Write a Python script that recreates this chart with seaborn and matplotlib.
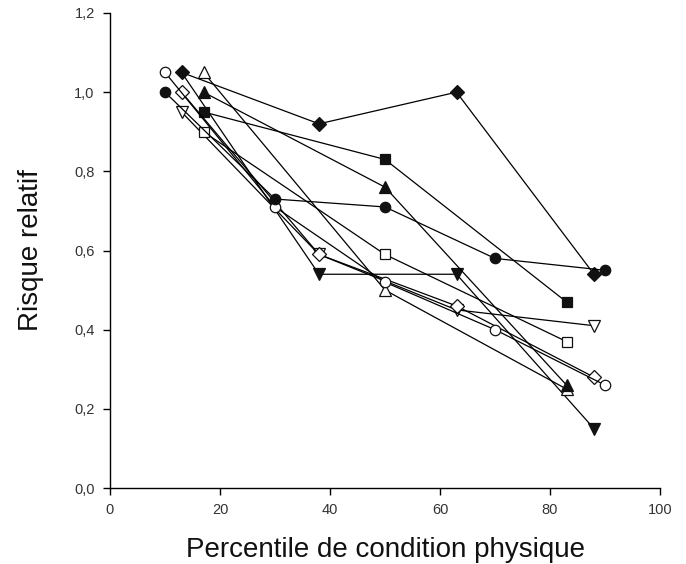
import matplotlib
matplotlib.use("Agg")
import matplotlib.pyplot as plt
import seaborn as sns
import pandas as pd
from matplotlib.ticker import FuncFormatter

sns.set_theme(style="ticks")
plt.rcParams['font.family'] = ['Liberation Sans', 'DejaVu Sans']

# series data (percentile, relative risk)
filled_circle_x = [10, 30, 50, 70, 90]
filled_circle_y = [1.00, 0.73, 0.71, 0.58, 0.55]
open_circle_x = [10, 30, 50, 70, 90]
open_circle_y = [1.05, 0.71, 0.52, 0.40, 0.26]
filled_diamond_x = [13, 38, 63, 88]
filled_diamond_y = [1.05, 0.92, 1.00, 0.54]
open_diamond_x = [13, 38, 63, 88]
open_diamond_y = [1.00, 0.59, 0.46, 0.28]
filled_tri_up_x = [17, 50, 83]
filled_tri_up_y = [1.00, 0.76, 0.26]
open_tri_up_x = [17, 50, 83]
open_tri_up_y = [1.05, 0.50, 0.25]
filled_square_x = [17, 50, 83]
filled_square_y = [0.95, 0.83, 0.47]
open_square_x = [17, 50, 83]
open_square_y = [0.90, 0.59, 0.37]
filled_tri_down_x = [13, 38, 63, 88]
filled_tri_down_y = [1.05, 0.54, 0.54, 0.15]
open_tri_down_x = [13, 38, 63, 88]
open_tri_down_y = [0.95, 0.59, 0.45, 0.41]

series = [
    ("filled_tri_down", filled_tri_down_x, filled_tri_down_y, "v", True),
    ("open_tri_down", open_tri_down_x, open_tri_down_y, "v", False),
    ("open_square", open_square_x, open_square_y, "s", False),
    ("filled_square", filled_square_x, filled_square_y, "s", True),
    ("open_tri_up", open_tri_up_x, open_tri_up_y, "^", False),
    ("filled_tri_up", filled_tri_up_x, filled_tri_up_y, "^", True),
    ("open_diamond", open_diamond_x, open_diamond_y, "D", False),
    ("filled_diamond", filled_diamond_x, filled_diamond_y, "D", True),
    ("open_circle", open_circle_x, open_circle_y, "o", False),
    ("filled_circle", filled_circle_x, filled_circle_y, "o", True),
]

fig = plt.figure(figsize=(6.86, 5.64), dpi=100)
ax = fig.add_axes([110/686, 1-488/564, 550/686, 475/564])

for name, xs, ys, mk, filled in series:
    df = pd.DataFrame({"x": xs, "y": ys})
    msize = {"o": 7.5, "s": 7.0, "D": 7.0, "^": 8.0, "v": 8.0}[mk]
    # the first filled down-triangle sits hidden beneath the filled diamond
    mev = list(range(1, len(xs))) if name == "filled_tri_down" else None
    sns.lineplot(data=df, x="x", y="y", ax=ax, color="black", linewidth=0.9,
                 marker=mk, markersize=msize, markevery=mev,
                 markerfacecolor=("#111111" if filled else "white"),
                 markeredgecolor="#111111", markeredgewidth=0.9,
                 estimator=None, sort=False, legend=False)

ax.set_xlim(0, 100)
ax.set_ylim(0, 1.2)
ax.set_xticks([0, 20, 40, 60, 80, 100])
ax.set_yticks([0, 0.2, 0.4, 0.6, 0.8, 1.0, 1.2])
ax.yaxis.set_major_formatter(FuncFormatter(lambda v, p: f"{v:.1f}".replace(".", ",")))
ax.tick_params(axis="both", direction="out", length=5, width=1, color="black",
               labelsize=10.5, labelcolor="#333333", pad=6)
for s in ("top", "right"):
    ax.spines[s].set_visible(False)
for s in ("left", "bottom"):
    ax.spines[s].set_color("black")
    ax.spines[s].set_linewidth(1.0)

ax.set_xlabel("Percentile de condition physique", fontsize=20, color="#111111", labelpad=14)
ax.set_ylabel("Risque relatif", fontsize=20, color="#111111", labelpad=22)

fig.savefig("out.png", dpi=100)
